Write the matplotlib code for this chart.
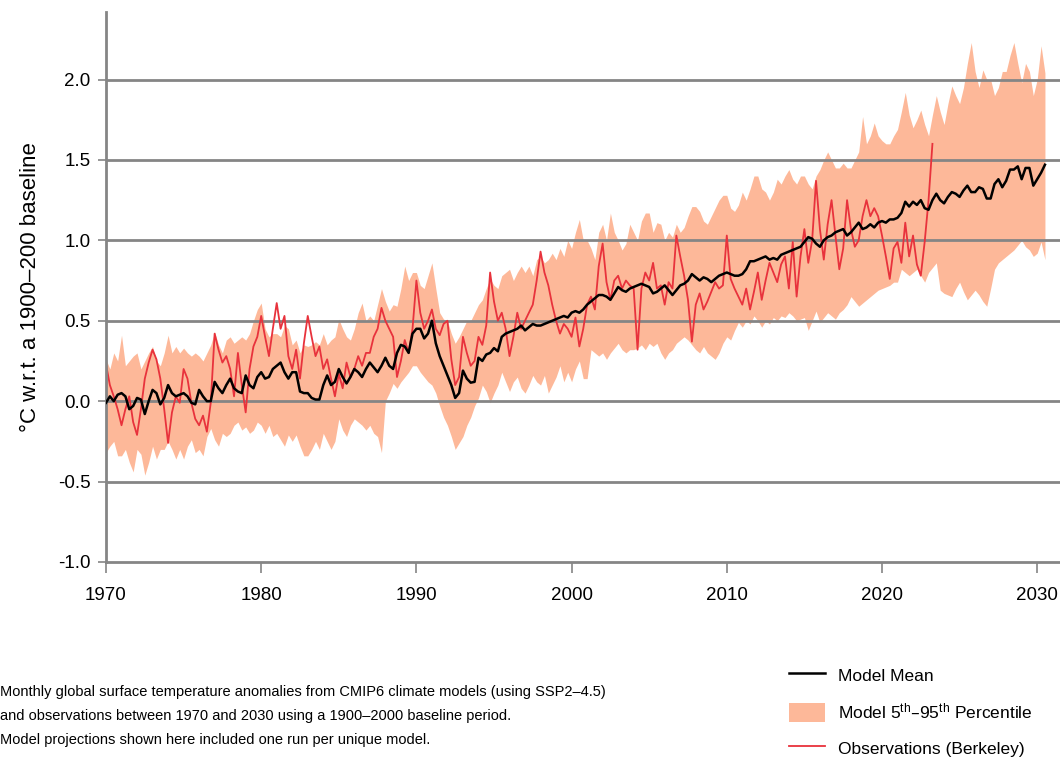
import numpy as np
import matplotlib
matplotlib.use("Agg")
import matplotlib.pyplot as plt
from matplotlib.lines import Line2D
from matplotlib.patches import Patch

plt.rcParams['font.family'] = ['Liberation Sans', 'DejaVu Sans']
plt.rcParams['axes.unicode_minus'] = False
plt.rcParams['mathtext.default'] = 'regular'

START_YEAR = 1970.0
STEP = 0.25  # quarterly samples

# Observations (Berkeley), quarterly from 1970.0
obs = [
    0.23, 0.10, 0.03, -0.05,   # 1970
    -0.15, -0.05, 0.03, -0.13,  # 1971
    -0.21, -0.05, 0.14, 0.24,   # 1972
    0.32, 0.26, 0.14, -0.05,    # 1973
    -0.26, -0.07, 0.03, -0.01,  # 1974
    0.20, 0.14, -0.01, -0.11,   # 1975
    -0.15, -0.09, -0.19, -0.01, # 1976
    0.42, 0.32, 0.24, 0.28,     # 1977
    0.20, 0.03, 0.30, 0.10,     # 1978
    -0.07, 0.20, 0.34, 0.40,    # 1979
    0.53, 0.40, 0.28, 0.45,     # 1980
    0.61, 0.45, 0.53, 0.28,     # 1981
    0.20, 0.32, 0.14, 0.36,     # 1982
    0.53, 0.40, 0.28, 0.34,     # 1983
    0.20, 0.26, 0.14, 0.03,     # 1984
    0.17, 0.08, 0.24, 0.15,     # 1985
    0.20, 0.28, 0.22, 0.30,     # 1986
    0.30, 0.40, 0.45, 0.58,     # 1987
    0.50, 0.45, 0.40, 0.15,     # 1988
    0.25, 0.38, 0.30, 0.45,     # 1989
    0.75, 0.55, 0.45, 0.50,     # 1990
    0.57, 0.45, 0.41, 0.48,     # 1991
    0.50, 0.26, 0.10, 0.15,     # 1992
    0.40, 0.30, 0.22, 0.25,     # 1993
    0.40, 0.35, 0.47, 0.80,     # 1994
    0.62, 0.50, 0.55, 0.45,     # 1995
    0.28, 0.40, 0.55, 0.45,     # 1996
    0.50, 0.55, 0.60, 0.75,     # 1997
    0.93, 0.80, 0.72, 0.60,     # 1998
    0.50, 0.42, 0.48, 0.45,     # 1999
    0.40, 0.52, 0.34, 0.45,     # 2000
    0.60, 0.65, 0.57, 0.84,     # 2001
    0.98, 0.74, 0.63, 0.75,     # 2002
    0.78, 0.70, 0.75, 0.72,     # 2003
    0.70, 0.32, 0.70, 0.80,     # 2004
    0.75, 0.86, 0.70, 0.72,     # 2005
    0.60, 0.74, 0.70, 1.03,     # 2006
    0.90, 0.78, 0.63, 0.37,     # 2007
    0.60, 0.67, 0.57, 0.62,     # 2008
    0.68, 0.74, 0.70, 0.72,     # 2009
    1.03, 0.76, 0.70, 0.65,     # 2010
    0.60, 0.70, 0.57, 0.68,     # 2011
    0.80, 0.63, 0.75, 0.86,     # 2012
    0.80, 0.74, 0.85, 0.90,     # 2013
    0.70, 0.99, 0.65, 0.90,     # 2014
    1.07, 0.86, 1.00, 1.37,     # 2015
    1.07, 0.88, 1.10, 1.25,     # 2016
    1.03, 0.82, 0.95, 1.25,     # 2017
    1.07, 0.96, 1.00, 1.15,     # 2018
    1.25, 1.15, 1.20, 1.15,     # 2019
    1.03, 0.90, 0.76, 0.95,     # 2020
    0.99, 0.86, 1.11, 0.90,     # 2021
    1.03, 0.85, 0.78, 0.99,     # 2022
    1.25, 1.60,                 # 2023
]

# CMIP6 model mean, quarterly from 1970.0
model_mean = [
    -0.01, 0.03, 0.00, 0.04,  # 1970
    0.05, 0.03, -0.05, -0.03, # 1971
    0.02, 0.01, -0.08, 0.00,  # 1972
    0.07, 0.05, -0.02, 0.02,  # 1973
    0.10, 0.05, 0.03, 0.04,   # 1974
    0.05, 0.03, -0.01, -0.02, # 1975
    0.07, 0.03, 0.00, 0.00,   # 1976
    0.12, 0.08, 0.05, 0.10,   # 1977
    0.14, 0.08, 0.06, 0.05,   # 1978
    0.16, 0.10, 0.08, 0.15,   # 1979
    0.18, 0.14, 0.15, 0.20,   # 1980
    0.22, 0.24, 0.18, 0.14,   # 1981
    0.18, 0.18, 0.06, 0.05,   # 1982
    0.05, 0.02, 0.01, 0.01,   # 1983
    0.10, 0.16, 0.10, 0.12,   # 1984
    0.20, 0.15, 0.11, 0.15,   # 1985
    0.20, 0.18, 0.15, 0.20,   # 1986
    0.24, 0.21, 0.18, 0.22,   # 1987
    0.27, 0.22, 0.20, 0.30,   # 1988
    0.35, 0.34, 0.30, 0.42,   # 1989
    0.45, 0.45, 0.39, 0.42,   # 1990
    0.50, 0.36, 0.28, 0.22,   # 1991
    0.16, 0.10, 0.02, 0.05,   # 1992
    0.19, 0.14, 0.115, 0.12,  # 1993
    0.27, 0.25, 0.29, 0.30,   # 1994
    0.33, 0.31, 0.40, 0.42,   # 1995
    0.43, 0.44, 0.45, 0.47,   # 1996
    0.44, 0.46, 0.48, 0.47,   # 1997
    0.47, 0.48, 0.49, 0.50,   # 1998
    0.51, 0.52, 0.53, 0.52,   # 1999
    0.55, 0.56, 0.55, 0.57,   # 2000
    0.60, 0.62, 0.64, 0.66,   # 2001
    0.66, 0.65, 0.63, 0.67,   # 2002
    0.71, 0.69, 0.68, 0.70,   # 2003
    0.71, 0.72, 0.73, 0.72,   # 2004
    0.71, 0.67, 0.68, 0.70,   # 2005
    0.72, 0.69, 0.66, 0.69,   # 2006
    0.72, 0.73, 0.75, 0.79,   # 2007
    0.77, 0.75, 0.77, 0.76,   # 2008
    0.74, 0.76, 0.78, 0.79,   # 2009
    0.80, 0.79, 0.78, 0.78,   # 2010
    0.79, 0.82, 0.87, 0.87,   # 2011
    0.88, 0.89, 0.90, 0.88,   # 2012
    0.89, 0.88, 0.91, 0.92,   # 2013
    0.93, 0.94, 0.95, 0.96,   # 2014
    0.99, 1.02, 1.01, 0.98,   # 2015
    0.96, 1.00, 1.02, 1.03,   # 2016
    1.05, 1.06, 1.07, 1.03,   # 2017
    1.05, 1.08, 1.11, 1.07,   # 2018
    1.08, 1.10, 1.08, 1.11,   # 2019
    1.12, 1.11, 1.13, 1.13,   # 2020
    1.14, 1.17, 1.24, 1.21,   # 2021
    1.24, 1.22, 1.25, 1.20,   # 2022
    1.19, 1.25, 1.29, 1.25,   # 2023
    1.23, 1.27, 1.30, 1.29,   # 2024
    1.27, 1.31, 1.34, 1.30,   # 2025
    1.30, 1.33, 1.32, 1.26,   # 2026
    1.26, 1.35, 1.38, 1.33,   # 2027
    1.37, 1.44, 1.44, 1.46,   # 2028
    1.38, 1.45, 1.45, 1.34,   # 2029
    1.38, 1.42, 1.47,         # 2030
]

# Model 95th percentile, quarterly from 1970.0
p95 = [
    0.26, 0.20, 0.30, 0.25,  # 1970
    0.41, 0.22, 0.25, 0.28,  # 1971
    0.30, 0.20, 0.25, 0.30,  # 1972
    0.34, 0.25, 0.22, 0.30,  # 1973
    0.41, 0.30, 0.34, 0.30,  # 1974
    0.33, 0.30, 0.28, 0.30,  # 1975
    0.28, 0.25, 0.30, 0.35,  # 1976
    0.43, 0.35, 0.30, 0.38,  # 1977
    0.40, 0.36, 0.38, 0.40,  # 1978
    0.38, 0.42, 0.50, 0.57,  # 1979
    0.61, 0.45, 0.40, 0.42,  # 1980
    0.42, 0.40, 0.47, 0.45,  # 1981
    0.35, 0.38, 0.30, 0.35,  # 1982
    0.34, 0.35, 0.37, 0.35,  # 1983
    0.42, 0.35, 0.38, 0.40,  # 1984
    0.51, 0.45, 0.40, 0.38,  # 1985
    0.45, 0.55, 0.61, 0.50,  # 1986
    0.53, 0.50, 0.60, 0.70,  # 1987
    0.62, 0.56, 0.60, 0.59,  # 1988
    0.70, 0.84, 0.75, 0.80,  # 1989
    0.80, 0.72, 0.70, 0.78,  # 1990
    0.86, 0.70, 0.55, 0.51,  # 1991
    0.50, 0.42, 0.36, 0.40,  # 1992
    0.45, 0.50, 0.50, 0.55,  # 1993
    0.60, 0.63, 0.70, 0.76,  # 1994
    0.72, 0.70, 0.78, 0.80,  # 1995
    0.82, 0.75, 0.80, 0.84,  # 1996
    0.80, 0.84, 0.78, 0.88,  # 1997
    0.90, 0.86, 0.88, 0.92,  # 1998
    0.88, 0.95, 0.90, 1.00,  # 1999
    0.95, 1.05, 1.13, 1.00,  # 2000
    1.00, 0.95, 0.88, 1.05,  # 2001
    1.10, 1.00, 1.17, 1.05,  # 2002
    1.00, 0.94, 0.98, 1.10,  # 2003
    1.05, 1.00, 1.12, 1.17,  # 2004
    1.17, 1.05, 1.11, 1.10,  # 2005
    1.00, 1.05, 1.02, 1.10,  # 2006
    1.05, 1.08, 1.15, 1.21,  # 2007
    1.21, 1.18, 1.12, 1.10,  # 2008
    1.15, 1.20, 1.25, 1.28,  # 2009
    1.28, 1.20, 1.18, 1.22,  # 2010
    1.30, 1.25, 1.32, 1.40,  # 2011
    1.40, 1.32, 1.30, 1.25,  # 2012
    1.30, 1.38, 1.35, 1.40,  # 2013
    1.44, 1.38, 1.35, 1.40,  # 2014
    1.40, 1.35, 1.32, 1.40,  # 2015
    1.44, 1.50, 1.55, 1.50,  # 2016
    1.45, 1.45, 1.48, 1.45,  # 2017
    1.45, 1.50, 1.55, 1.77,  # 2018
    1.60, 1.65, 1.73, 1.65,  # 2019
    1.62, 1.60, 1.60, 1.65,  # 2020
    1.69, 1.80, 1.92, 1.78,  # 2021
    1.70, 1.75, 1.81, 1.72,  # 2022
    1.65, 1.78, 1.90, 1.80,  # 2023
    1.72, 1.85, 1.96, 1.90,  # 2024
    1.85, 1.95, 2.10, 2.23,  # 2025
    2.05, 1.95, 2.06, 2.00,  # 2026
    2.00, 1.90, 1.95, 2.05,  # 2027
    2.05, 2.15, 2.23, 2.10,  # 2028
    1.98, 2.10, 2.05, 1.90,  # 2029
    2.00, 2.21, 2.04,        # 2030
]

# Model 5th percentile, quarterly from 1970.0
p05 = [
    -0.32, -0.28, -0.25, -0.34,  # 1970
    -0.34, -0.30, -0.38, -0.44,  # 1971
    -0.30, -0.33, -0.46, -0.38,  # 1972
    -0.28, -0.36, -0.30, -0.30,  # 1973
    -0.25, -0.30, -0.36, -0.30,  # 1974
    -0.36, -0.28, -0.24, -0.32,  # 1975
    -0.30, -0.34, -0.22, -0.17,  # 1976
    -0.24, -0.28, -0.20, -0.22,  # 1977
    -0.20, -0.15, -0.13, -0.18,  # 1978
    -0.16, -0.20, -0.18, -0.13,  # 1979
    -0.15, -0.20, -0.15, -0.22,  # 1980
    -0.20, -0.24, -0.28, -0.21,  # 1981
    -0.25, -0.21, -0.28, -0.34,  # 1982
    -0.34, -0.30, -0.25, -0.30,  # 1983
    -0.20, -0.25, -0.30, -0.25,  # 1984
    -0.11, -0.18, -0.22, -0.15,  # 1985
    -0.11, -0.13, -0.15, -0.18,  # 1986
    -0.15, -0.20, -0.22, -0.32,  # 1987
    0.00, 0.05, 0.11, 0.08,      # 1988
    0.12, 0.15, 0.18, 0.22,      # 1989
    0.22, 0.18, 0.15, 0.12,      # 1990
    0.10, 0.05, -0.03, -0.10,    # 1991
    -0.15, -0.22, -0.30, -0.26,  # 1992
    -0.22, -0.15, -0.10, -0.03,  # 1993
    0.02, 0.10, 0.06, -0.01,     # 1994
    0.05, 0.10, 0.18, 0.12,      # 1995
    0.06, 0.12, 0.15, 0.08,      # 1996
    0.05, 0.10, 0.16, 0.12,      # 1997
    0.10, 0.16, 0.05, 0.10,      # 1998
    0.15, 0.22, 0.12, 0.18,      # 1999
    0.12, 0.20, 0.25, 0.14,      # 2000
    0.14, 0.32, 0.30, 0.28,      # 2001
    0.30, 0.26, 0.30, 0.33,      # 2002
    0.36, 0.32, 0.30, 0.32,      # 2003
    0.32, 0.33, 0.35, 0.32,      # 2004
    0.36, 0.34, 0.36, 0.30,      # 2005
    0.26, 0.30, 0.32, 0.36,      # 2006
    0.38, 0.40, 0.38, 0.35,      # 2007
    0.32, 0.30, 0.34, 0.30,      # 2008
    0.28, 0.26, 0.30, 0.36,      # 2009
    0.40, 0.38, 0.44, 0.49,      # 2010
    0.46, 0.50, 0.48, 0.53,      # 2011
    0.50, 0.46, 0.50, 0.48,      # 2012
    0.52, 0.50, 0.53, 0.52,      # 2013
    0.55, 0.53, 0.50, 0.51,      # 2014
    0.52, 0.44, 0.50, 0.56,      # 2015
    0.49, 0.52, 0.55, 0.53,      # 2016
    0.51, 0.55, 0.57, 0.60,      # 2017
    0.65, 0.62, 0.59, 0.61,      # 2018
    0.63, 0.65, 0.67, 0.69,      # 2019
    0.70, 0.71, 0.72, 0.74,      # 2020
    0.74, 0.82, 0.80, 0.78,      # 2021
    0.80, 0.82, 0.78, 0.74,      # 2022
    0.80, 0.83, 0.86, 0.69,      # 2023
    0.67, 0.66, 0.65, 0.70,      # 2024
    0.74, 0.68, 0.63, 0.66,      # 2025
    0.69, 0.66, 0.62, 0.59,      # 2026
    0.70, 0.82, 0.86, 0.88,      # 2027
    0.90, 0.92, 0.94, 0.97,      # 2028
    1.00, 0.96, 0.94, 0.90,      # 2029
    0.92, 0.99, 0.88,            # 2030
]

x_ticks = [1970, 1980, 1990, 2000, 2010, 2020, 2030]
y_ticks = [-1.0, -0.5, 0.0, 0.5, 1.0, 1.5, 2.0]
y_label = "°C w.r.t. a 1900–200 baseline"
legend_labels = ["Model Mean", "Model 5$^{th}$–95$^{th}$ Percentile", "Observations (Berkeley)"]
caption = ("Monthly global surface temperature anomalies from CMIP6 climate models (using SSP2–4.5)\n"
           "and observations between 1970 and 2030 using a 1900–2000 baseline period.\n"
           "Model projections shown here included one run per unique model.")

BAND = '#FDB899'
OBS = '#E8323C'
GRID = '#858585'

t_model = START_YEAR + STEP * np.arange(len(model_mean))
t_obs = START_YEAR + STEP * np.arange(len(obs))

fig = plt.figure(figsize=(10.6, 7.62), dpi=100)
ax = fig.add_axes([0.1, 0.2625, 0.9, 0.7218])

ax.fill_between(t_model, p05, p95, color=BAND, lw=0, zorder=1)
for yv in y_ticks[1:]:
    ax.axhline(yv, color=GRID, lw=2.0, zorder=1.5)
ax.plot(t_model, model_mean, color='black', lw=1.8, zorder=3)
ax.plot(t_obs, obs, color=OBS, lw=1.3, zorder=2.5)

ax.set_xlim(1970, 2031.47)
ax.set_ylim(-1.0, 2.42)
ax.set_xticks(x_ticks)
ax.set_yticks(y_ticks)
ax.set_yticklabels([f"{v:.1f}" for v in y_ticks])
for s in ['top', 'right']:
    ax.spines[s].set_visible(False)
for s in ['left', 'bottom']:
    ax.spines[s].set_color(GRID)
    ax.spines[s].set_linewidth(2.0)
ax.tick_params(axis='y', length=6, width=1.2, color=GRID, labelsize=13.5, pad=5)
ax.tick_params(axis='x', length=8, width=1.2, color=GRID, labelsize=13.5, pad=10)
ax.set_ylabel(y_label, fontsize=16, labelpad=12)

handles = [Line2D([], [], color='black', lw=1.8),
           Patch(facecolor=BAND, edgecolor='none'),
           Line2D([], [], color=OBS, lw=1.3)]
fig.legend(handles, legend_labels, loc='upper left', bbox_to_anchor=(0.744, 0.126),
           frameon=False, fontsize=12.5, handlelength=2.1, handleheight=1.25,
           labelspacing=0.98, handletextpad=0.75, borderpad=0, borderaxespad=0)

fig.text(0.0, 0.0604, caption, fontsize=10.5, ha='left', va='center', linespacing=1.9)

fig.savefig('out.png', dpi=100)
